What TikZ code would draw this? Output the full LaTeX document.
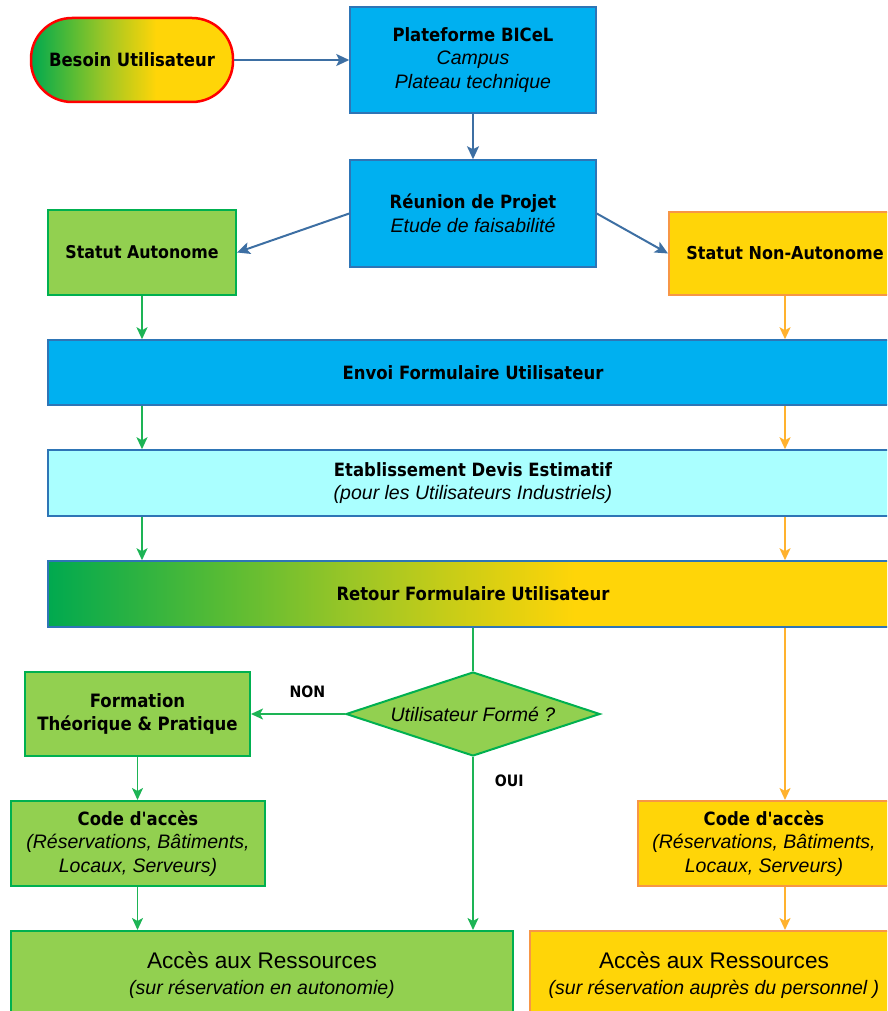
\documentclass[tikz,border=0pt]{standalone}
\usepackage{fontspec}
\setmainfont{Liberation Sans}
\newfontfamily\titrefont[FakeStretch=0.9]{DejaVu Sans}
\usepackage{xcolor}
\usepackage{tikz}
\usetikzlibrary{arrows.meta}
\usetikzlibrary{shapes.geometric, calc}
\definecolor{bleuBoite}{HTML}{00B0F0}
\definecolor{bleuBord}{HTML}{2E75B6}
\definecolor{bleuFleche}{HTML}{3D6FA3}
\definecolor{vertBoite}{HTML}{92D050}
\definecolor{vertBord}{HTML}{00B050}
\definecolor{vertFleche}{HTML}{1DB455}
\definecolor{jauneBoite}{HTML}{FFD508}
\definecolor{orangeBord}{HTML}{F79646}
\definecolor{orangeFleche}{HTML}{FFB22E}
\definecolor{cyanBoite}{HTML}{AAFFFF}
\definecolor{rougeBord}{HTML}{FF0000}
\definecolor{degA}{HTML}{00A94F}
\definecolor{degB}{HTML}{55BB35}
\definecolor{degC}{HTML}{9CC626}
\definecolor{degD}{HTML}{D2CE14}
\pgfdeclarehorizontalshading{vertjaune}{100bp}{color(0bp)=(degA); color(25bp)=(degA); color(35bp)=(degB); color(43bp)=(degC); color(50bp)=(degD); color(56bp)=(jauneBoite); color(100bp)=(jauneBoite)}
\newcommand{\titreGras}{\titrefont\bfseries}
\newcommand{\sousTitre}{\fontsize{19.5}{23.5}\selectfont\itshape}

\begin{document}
\begin{tikzpicture}[x=1pt, y=-1pt,
    texte/.style={font=\fontsize{18.3}{23.5}\selectfont, align=center, inner sep=0pt},
    boite/.style={texte, rectangle, line width=1.5pt},
    boiteBleue/.style={boite, fill=bleuBoite, draw=bleuBord},
    boiteCyan/.style={boite, fill=cyanBoite, draw=bleuBord},
    boiteDegrade/.style={boite, shading=vertjaune, draw=bleuBord},
    boiteVerte/.style={boite, fill=vertBoite, draw=vertBord, line width=2pt},
    boiteJaune/.style={boite, fill=jauneBoite, draw=orangeBord, line width=2pt},
    etiquette/.style={font=\fontsize{15.7}{18}\selectfont\titreGras, inner sep=0pt},
    flecheBleue/.style={draw=bleuFleche, line width=2pt, -{Stealth[length=13pt, width=12pt, inset=3pt]}},
    filetVert/.style={draw=vertFleche, line width=1.9pt},
    flecheVerte/.style={filetVert, -{Stealth[length=12pt, width=11pt, inset=3pt]}},
    filetOrange/.style={draw=orangeFleche, line width=1.9pt},
    flecheOrange/.style={filetOrange, -{Stealth[length=12pt, width=11pt, inset=3pt]}}]

    % Cadre
    \useasboundingbox (0,0) rectangle (887,1011);
    \clip (0,0) rectangle (887,1011);

    % Besoin et plateforme
    \node[boite, shading=vertjaune, draw=rougeBord, line width=2.5pt, rounded corners=41pt,
          minimum width=202pt, minimum height=84pt] (besoin) at (132,60)
          {\titreGras Besoin Utilisateur};
    \node[boiteBleue, minimum width=246pt, minimum height=106pt] (plateforme) at (473,60)
          {{\titreGras Plateforme BICeL}\\{\sousTitre Campus}\\{\sousTitre Plateau technique}};
    \node[boiteBleue, minimum width=246pt, minimum height=107pt] (reunion) at (473,213.5)
          {{\titreGras R\'eunion de Projet}\\{\sousTitre Etude de faisabilit\'e}};

    % Statuts
    \node[boiteVerte, minimum width=188pt, minimum height=85pt,
          font=\fontsize{17.6}{23.5}\selectfont] (autonome) at (142,252.5)
          {\titreGras Statut Autonome};
    \node[boiteJaune, minimum width=232pt, minimum height=83pt,
          font=\fontsize{17.8}{23.5}\selectfont] (nonAutonome) at (785,253.5)
          {\titreGras Statut Non-Autonome};

    % Bandeaux
    \node[boiteBleue, minimum width=850pt, minimum height=65pt] (envoi) at (473,372.5)
          {\titreGras Envoi Formulaire Utilisateur};
    \node[boiteCyan, minimum width=850pt, minimum height=66pt] (devis) at (473,483)
          {{\titreGras Etablissement Devis Estimatif}\\{\sousTitre (pour les Utilisateurs Industriels)}};
    \node[boiteDegrade, minimum width=850pt, minimum height=66pt] (retour) at (473,594)
          {\titreGras Retour Formulaire Utilisateur};

    % Test formation
    \node[texte, diamond, aspect=3, fill=vertBoite, draw=vertBord, line width=2pt,
          minimum width=254pt, minimum height=84pt] (forme) at (473,714)
          {\sousTitre Utilisateur Form\'e ?};
    \node[boiteVerte, minimum width=225pt, minimum height=84pt,
          font=\fontsize{18.4}{23.5}\selectfont] (formation) at (137.5,714)
          {{\titreGras Formation}\\{\titreGras Th\'eorique \& Pratique}};

    % Codes d'acces
    \node[boiteVerte, minimum width=254pt, minimum height=85pt] (codeA) at (138,843.5)
          {{\titreGras Code d'acc\`es}\\{\sousTitre (R\'eservations, B\^atiments,}\\{\sousTitre Locaux, Serveurs)}};
    \node[boiteJaune, minimum width=252pt, minimum height=85pt] (codeB) at (764,843.5)
          {{\titreGras Code d'acc\`es}\\{\sousTitre (R\'eservations, B\^atiments,}\\{\sousTitre Locaux, Serveurs)}};

    % Acces aux ressources
    \node[boiteVerte, minimum width=502pt, minimum height=88pt,
          font=\fontsize{22.6}{26}\selectfont] (accesA) at (262,975)
          {Acc\`es aux Ressources\\{\sousTitre (sur r\'eservation en autonomie)}};
    \node[boiteJaune, minimum width=368pt, minimum height=88pt,
          font=\fontsize{22.6}{26}\selectfont] (accesB) at (714,975)
          {Acc\`es aux Ressources\\{\sousTitre (sur r\'eservation aupr\`es du personnel )}};

    % Fleches du haut
    \draw[flecheBleue] (besoin) -- (plateforme);
    \draw[flecheBleue] (plateforme) -- (reunion);
    \draw[flecheBleue] (reunion.west) -- (autonome.east);
    \draw[flecheBleue] (reunion.east) -- (nonAutonome.west);

    % Colonne autonome
    \draw[flecheVerte] (autonome) -- (autonome |- envoi.north);
    \draw[flecheVerte] (envoi.south -| autonome) -- (autonome |- devis.north);
    \draw[flecheVerte] (devis.south -| autonome) -- (autonome |- retour.north);
    \draw[filetVert] (retour) -- (forme);
    \draw[flecheVerte] (forme) -- (formation)
          node[etiquette, pos=0.4, above=15pt] (non) {NON};
    \draw[flecheVerte] (forme) -- (forme |- accesA.north)
          node[etiquette, pos=0.137, right=21pt] (oui) {OUI};
    \draw[flecheVerte] (formation) -- (formation |- codeA.north);
    \draw[flecheVerte] (codeA.south -| formation) -- (formation |- accesA.north);

    % Colonne non-autonome
    \draw[flecheOrange] (nonAutonome) -- (nonAutonome |- envoi.north);
    \draw[flecheOrange] (envoi.south -| nonAutonome) -- (nonAutonome |- devis.north);
    \draw[flecheOrange] (devis.south -| nonAutonome) -- (nonAutonome |- retour.north);
    \draw[flecheOrange] (retour.south -| nonAutonome) -- (nonAutonome |- codeB.north);
    \draw[flecheOrange] (codeB.south -| nonAutonome) -- (nonAutonome |- accesB.north);
\end{tikzpicture}
\end{document}
